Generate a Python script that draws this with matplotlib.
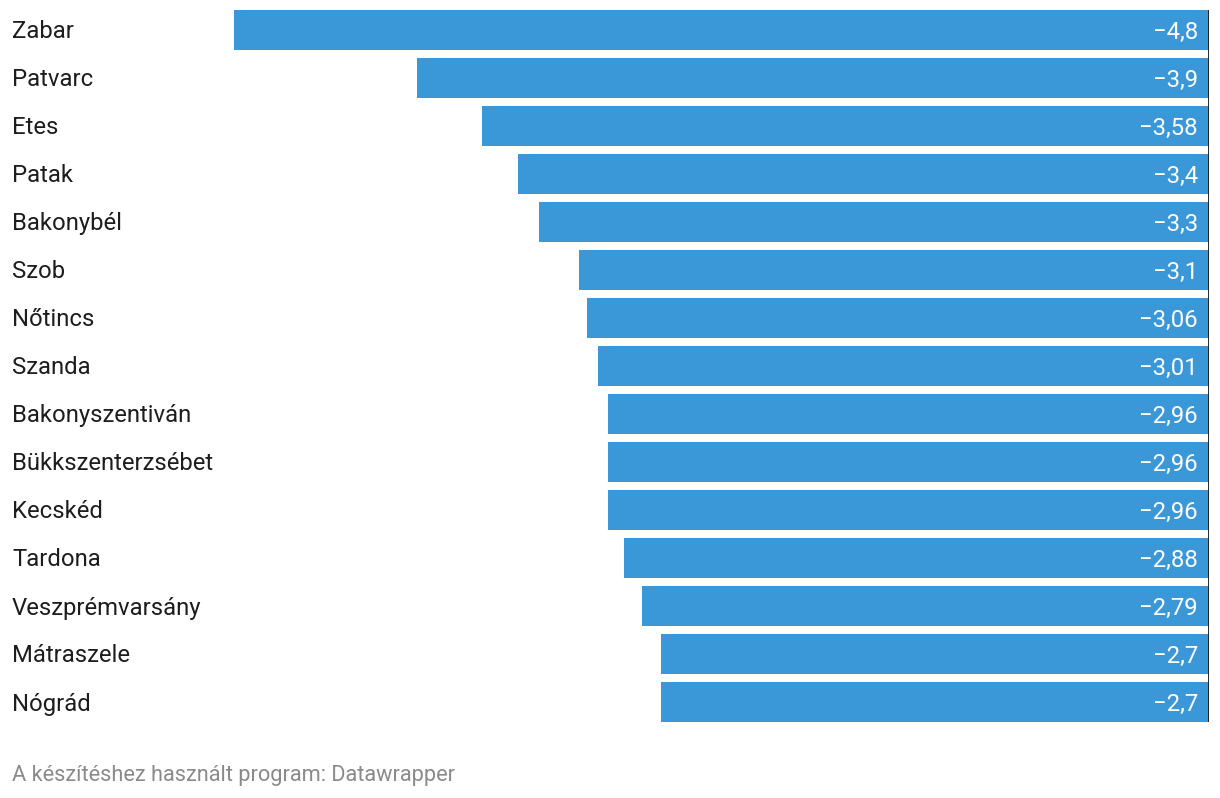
import matplotlib
matplotlib.use('Agg')
import matplotlib.pyplot as plt

plt.rcParams['font.family'] = ['Roboto', 'DejaVu Sans']

places = ['Zabar', 'Patvarc', 'Etes', 'Patak', 'Bakonybél', 'Szob', 'Nőtincs',
          'Szanda', 'Bakonyszentiván', 'Bükkszenterzsébet', 'Kecskéd', 'Tardona',
          'Veszprémvarsány', 'Mátraszele', 'Nógrád']
values = [-4.8, -3.9, -3.58, -3.4, -3.3, -3.1, -3.06, -3.01, -2.96, -2.96,
          -2.96, -2.88, -2.79, -2.7, -2.7]

W, H = 1220, 798
fig = plt.figure(figsize=(W / 100, H / 100), dpi=100)
bar_h = 40 / 48
ax = fig.add_axes([234 / W, 1 - 722 / H, (1209 - 234) / W, (722 - 10) / H])

ypos = list(range(len(places)))
ax.barh(ypos, values, height=bar_h, color='#3b98d8', zorder=2)
ax.set_xlim(-4.8, 0)
ax.set_ylim(len(places) - 1 + bar_h / 2, -bar_h / 2)
ax.axvline(0, color='#1a1a1a', linewidth=2, zorder=3)
ax.axis('off')

for y, name, v in zip(ypos, places, values):
    # category name at far left of the figure
    ax.annotate(name, xy=(0, y), xycoords=('figure fraction', 'data'),
                xytext=(12, -2), textcoords='offset pixels',
                ha='left', va='center', fontsize=17.2, color='#1d1d1d')
    lbl = ('−' + f'{abs(v):g}').replace('.', ',')
    ax.annotate(lbl, xy=(0, y), xytext=(-11, -2), textcoords='offset pixels',
                ha='right', va='center', fontsize=17.2, color='white', zorder=4)

fig.text(12 / W, 1 - 775 / H, 'A készítéshez használt program: Datawrapper',
         ha='left', va='center', fontsize=15.7, color='#8a8a8a')

fig.savefig('out.png', dpi=100)
